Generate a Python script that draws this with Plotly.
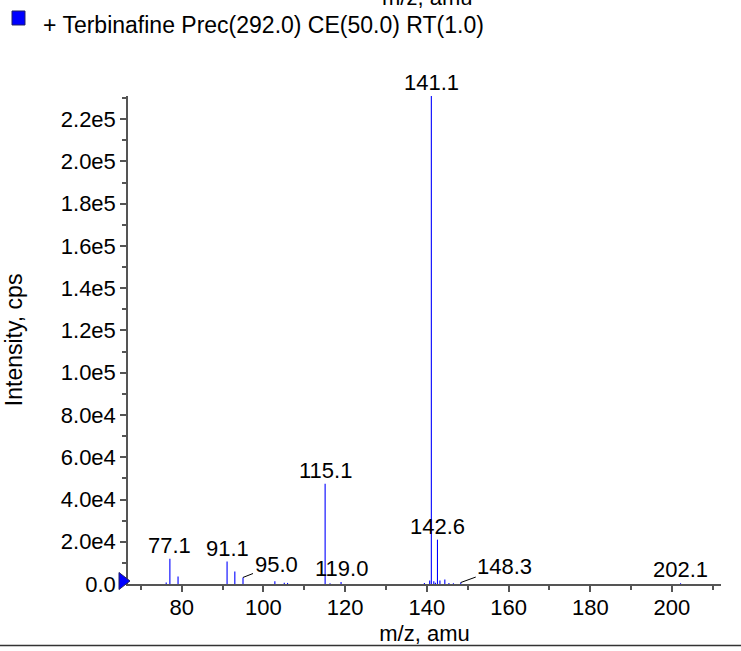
import plotly.graph_objects as go

# ---- data ----
mz = [76.2, 77.1, 79.1, 91.1, 93.0, 95.0, 102.8, 105.1, 105.9, 115.1, 116.3, 119.0,
      139.4, 140.7, 141.1, 141.7, 142.1, 142.6, 143.2, 144.4, 145.4, 146.5, 148.3, 202.1]
intensity = [700, 12000, 3500, 10600, 5900, 3100, 1300, 600, 500, 47500, 400, 900,
             500, 1700, 231000, 1300, 600, 21000, 1600, 2100, 500, 400, 700, 300]

label_mz = [77.1, 91.1, 95.0, 115.1, 119.0, 141.1, 142.6, 148.3, 202.1]
leader_labels = {95.0: (33, -13), 148.3: (44, -16)}

y_tickvals = [0, 2e4, 4e4, 6e4, 8e4, 1e5, 1.2e5, 1.4e5, 1.6e5, 1.8e5, 2e5, 2.2e5]
y_ticktext = ["0.0", "2.0e4", "4.0e4", "6.0e4", "8.0e4", "1.0e5", "1.2e5", "1.4e5",
              "1.6e5", "1.8e5", "2.0e5", "2.2e5"]
x_tickvals = [80, 100, 120, 140, 160, 180, 200]

legend_name = "+ Terbinafine Prec(292.0) CE(50.0) RT(1.0)"
x_title = "m/z, amu"
y_title = "Intensity, cps"

x_range = [66.85, 212.0]
y_range = [0, 231000]

FONT = "Liberation Sans, Arial, Helvetica, sans-serif"
BLUE = "#0000FF"
AXIS = "#555555"

# stick spectrum
xs, ys = [], []
for m, v in zip(mz, intensity):
    xs += [m, m, None]
    ys += [0, v, None]

fig = go.Figure()
fig.add_trace(go.Scatter(x=xs, y=ys, mode="lines", line=dict(color=BLUE, width=1.1),
                         name=legend_name, showlegend=False, hoverinfo="skip"))

annotations = []
for m in label_mz:
    v = intensity[mz.index(m)]
    if m in leader_labels:
        ax, ay = leader_labels[m]
        annotations.append(dict(x=m, y=v, text=f"{m:.1f}", showarrow=True, arrowhead=0,
                                arrowwidth=1, arrowcolor="#000000", ax=ax, ay=ay,
                                font=dict(size=22, color="black", family=FONT)))
    else:
        annotations.append(dict(x=m, y=v, text=f"{m:.1f}", showarrow=False,
                                yanchor="bottom", yshift=-1,
                                font=dict(size=22, color="black", family=FONT)))

# clipped title from panel above
annotations.append(dict(x=0.505, y=1.2027, xref="paper", yref="paper", text=x_title,
                        showarrow=False, yanchor="middle",
                        font=dict(size=22, color="black", family=FONT)))
# y-axis title
annotations.append(dict(x=-0.192, y=0.5, xref="paper", yref="paper", text=y_title,
                        showarrow=False, textangle=-90, xanchor="center", yanchor="middle",
                        font=dict(size=23, color="black", family=FONT)))
# legend text
annotations.append(dict(x=-0.1467, y=1.1461, xref="paper", yref="paper", text=legend_name,
                        showarrow=False, xanchor="left", yanchor="middle",
                        font=dict(size=23, color="black", family=FONT)))

shapes = [
    # blue origin marker
    dict(type="path", xref="paper", yref="paper", xsizemode="pixel", ysizemode="pixel",
         xanchor=0, yanchor=0, path="M -9,11.5 L 2,3 L -9,-5.5 Z",
         fillcolor=BLUE, line=dict(color="#222266", width=1)),
    # legend square
    dict(type="rect", xref="paper", yref="paper", x0=-0.1956, x1=-0.1737,
         y0=1.1455, y1=1.1742, fillcolor=BLUE, line=dict(color="#222266", width=1)),
    # bottom separator
    dict(type="line", xref="paper", yref="paper", x0=-0.22, x1=1.04,
         y0=-0.1259, y1=-0.1259, line=dict(color="#333333", width=1.5)),
]

fig.update_layout(
    width=741, height=651,
    margin=dict(l=128, r=20, t=96, b=67, autoexpand=False),
    paper_bgcolor="white", plot_bgcolor="white",
    font=dict(family=FONT, size=22, color="black"),
    showlegend=False,
    annotations=annotations,
    shapes=shapes,
)
fig.update_xaxes(range=x_range, showgrid=False, zeroline=False, showline=True,
                 automargin=False, ticklabelstandoff=-3,
                 linecolor=AXIS, linewidth=1.5, ticks="outside", ticklen=6,
                 tickcolor=AXIS, tickwidth=1.5, tickvals=x_tickvals,
                 tickfont=dict(size=22, family=FONT),
                 minor=dict(dtick=10, tick0=70, ticks="outside", ticklen=4,
                            tickcolor=AXIS, tickwidth=1.5, showgrid=False),
                 title=dict(text=x_title, standoff=6, font=dict(size=22, family=FONT)))
fig.update_yaxes(range=y_range, showgrid=False, zeroline=False, showline=True,
                 automargin=False,
                 linecolor=AXIS, linewidth=1.5, ticks="outside", ticklen=6,
                 tickcolor=AXIS, tickwidth=1.5, tickvals=y_tickvals, ticktext=y_ticktext,
                 tickfont=dict(size=22, family=FONT),
                 minor=dict(dtick=1e4, tick0=0, ticks="outside", ticklen=4,
                            tickcolor=AXIS, tickwidth=1.5, showgrid=False))

fig.write_html("out.html", config={"displayModeBar": False},
               post_script="document.body.style.margin='0px';")
